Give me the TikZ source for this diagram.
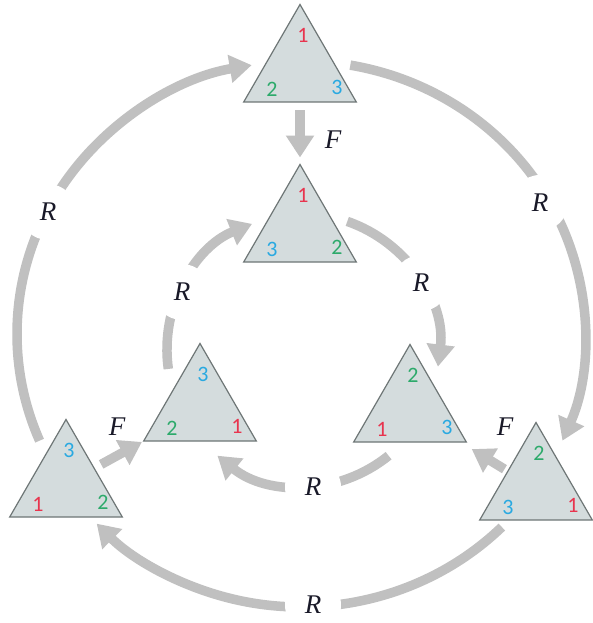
\documentclass[tikz,border=0pt]{standalone}
\usepackage{fontspec}
\newfontfamily\numfont{Carlito}
\newfontfamily\lblfont{Liberation Serif}
\usetikzlibrary{arrows.meta,shapes.geometric,calc}
\definecolor{arrgray}{RGB}{192,192,192}
\definecolor{trifill}{RGB}{212,220,221}
\definecolor{triline}{RGB}{110,118,118}
\definecolor{nred}{RGB}{232,52,78}
\definecolor{ngreen}{RGB}{45,170,107}
\definecolor{nblue}{RGB}{41,169,225}
\definecolor{lbltext}{RGB}{25,25,40}
\tikzset{
 tri/.style={regular polygon, regular polygon sides=3, minimum size=130pt, inner sep=0pt, outer sep=0pt, draw=triline, fill=trifill, line width=1.2pt},
 arr/.style={draw=arrgray, line width=9.5pt, -{Triangle[length=22pt,width=27pt]}},
 rlab/.style={circle, fill=white, minimum size=56pt, inner sep=0pt, text=lbltext, font=\lblfont\itshape\fontsize{27}{30}\selectfont},
 flab/.style={inner sep=0pt, text=lbltext, font=\lblfont\itshape\fontsize{27}{30}\selectfont},
 num/.style={font=\numfont\fontsize{22}{24}\selectfont, inner sep=0pt},
 c1/.style={text=nred}, c2/.style={text=ngreen}, c3/.style={text=nblue}
}
\begin{document}
\begin{tikzpicture}[x=1pt,y=-1pt]
\useasboundingbox[fill=white] (0,0) rectangle (593,623);
\coordinate (O) at (301,334);
\coordinate (I) at (303,350);
% triangles
\node[tri] (t1) at (300,69.5) {};
\node[tri] (t2) at (300,229.5) {};
\node[tri] (t3) at (200,408.5) {};
\node[tri] (t4) at (410,409.5) {};
\node[tri] (t5) at (66,484.5) {};
\node[tri] (t6) at (536,487.5) {};
\foreach \n/\a/\b/\c in {t1/1/2/3, t2/1/3/2, t3/3/2/1, t4/2/1/3, t5/3/1/2, t6/2/3/1} {
  \node[num,c\a] (\n-top) at ($(\n)+(3,-34)$) {\a};
  \node[num,c\b] (\n-left) at ($(\n)+(-28,20)$) {\b};
  \node[num,c\c] (\n-right) at ($(\n)+(37,18)$) {\c};
}
% outer R arcs
\draw[arr] ($(O)+(157:284 and 273)$) arc[start angle=157,end angle=260,x radius=284,y radius=273];
\draw[arr] ($(O)+(-80:284 and 273)$) arc[start angle=-80,end angle=23,x radius=284,y radius=273];
\draw[arr] ($(O)+(45:284 and 273)$) arc[start angle=45,end angle=136,x radius=284,y radius=273];
% inner R arcs
\draw[arr] ($(I)+(172:136)$) arc[start angle=172,end angle=248,radius=136];
\draw[arr] ($(I)+(-71:136)$) arc[start angle=-71,end angle=7,radius=136];
\draw[arr] ($(I)+(51:136)$) arc[start angle=51,end angle=129,radius=136];
% F arrows
\draw[arr, shorten <=8pt, shorten >=7pt] (t1.south) -- (t2.corner 1);
\coordinate (t5r) at ($(t5.corner 1)!0.5!(t5.corner 3)$);
\coordinate (t6l) at ($(t6.corner 1)!0.5!(t6.corner 2)$);
\draw[arr, shorten <=8pt, shorten >=2pt] (t5r) -- (t3.corner 2);
\draw[arr, shorten <=4pt, shorten >=4pt] (t6l) -- ($(t4.corner 3)+(2,5)$);
% labels
\node[rlab] (r1) at (48,212) {R};
\node[rlab] (r2) at (540,203) {R};
\node[rlab] (r3) at (313,605) {R};
\node[rlab] (r4) at (182,292) {R};
\node[rlab] (r5) at (421,283) {R};
\node[rlab] (r6) at (313,487) {R};
\node[flab] (f1) at (333,140) {F};
\node[flab] (f2) at (117,427) {F};
\node[flab] (f3) at (505,427) {F};
\end{tikzpicture}
\end{document}
